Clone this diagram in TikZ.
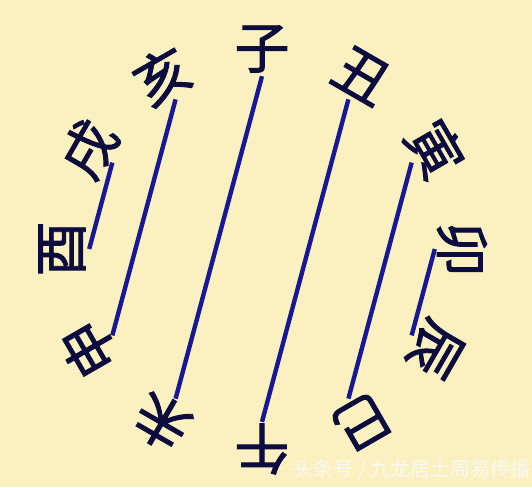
\documentclass[tikz,border=0pt]{standalone}
\usepackage{fontspec}
\newfontfamily\cjk{Noto Sans CJK SC}
\newfontfamily\cjkheavy[FakeBold=1.6]{Noto Sans CJK SC}
\definecolor{bgc}{RGB}{250,240,192}
\definecolor{inkc}{RGB}{12,12,62}
\definecolor{linec}{RGB}{24,24,150}
\definecolor{wmc}{RGB}{250,249,244}
\begin{document}
\begin{tikzpicture}[x=1pt,y=1pt,
  br/.style={font=\cjkheavy\fontsize{55}{55}\selectfont, text=inkc, inner sep=0pt,
             minimum width=54pt, minimum height=54pt},
  chord/.style={draw=linec, line width=4.4pt}]
\fill[bgc] (0,0) rectangle (532,487);
\useasboundingbox (0,0) rectangle (532,487);
\coordinate (O) at (262,238);
\foreach \n/\c/\a in {zi/子/0, chou/丑/30, yin/寅/60, mao/卯/90, chen/辰/120, si/巳/150,
                      wu/午/180, wei/未/210, shen/申/240, you/酉/270, xu/戌/300, hai/亥/330}{
  \node[br, rotate=-\a] (\n) at ([shift={(90-\a:200)}]O) {\c};
}
\draw[chord] (zi.south) -- (wei.south);
\draw[chord] (chou.south) -- (wu.south);
\draw[chord] (yin.south) -- (si.south);
\draw[chord] (mao.south) -- (chen.south);
\draw[chord] (hai.south) -- (shen.south);
\draw[chord] (xu.south) -- (you.south);
\node[font=\cjk\fontsize{20}{20}\selectfont, text=wmc] (wm) at (412,17) {头条号 / 九龙居士周易传播};
\end{tikzpicture}
\end{document}
